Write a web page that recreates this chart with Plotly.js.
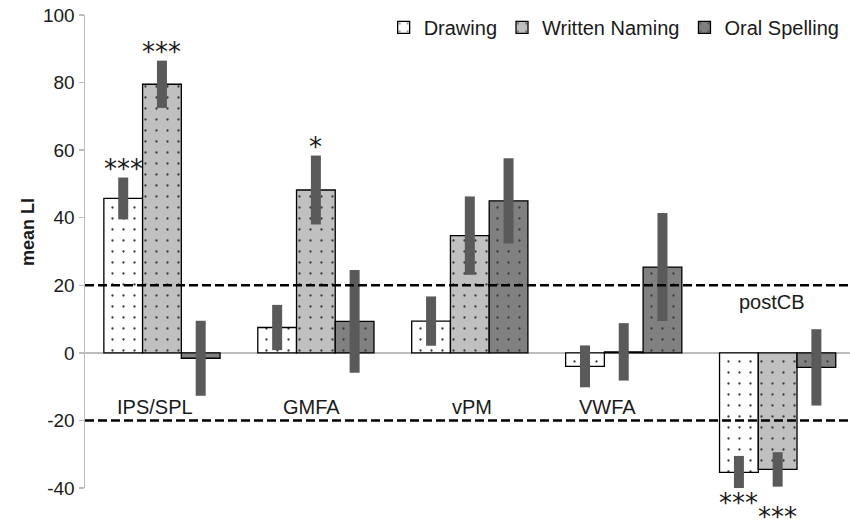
<!DOCTYPE html>
<html><head><meta charset="utf-8">
<script src="https://cdn.plot.ly/plotly-3.0.1.min.js"></script>
<style>html,body{margin:0;padding:0;background:#fff}#chart{width:850px;height:524px}</style>
</head><body><div id="chart"></div>
<script>
// ---- data ----
const regions = ['IPS/SPL', 'GMFA', 'vPM', 'VWFA', 'postCB'];
const seriesNames = ['Drawing', 'Written Naming', 'Oral Spelling'];
const drawingLI  = [45.7, 7.5, 9.4, -4.0, -35.4];
const drawingErr = [6.2, 6.7, 7.3, 6.2, 4.9];
const writtenLI  = [79.5, 48.2, 34.7, 0.3, -34.5];
const writtenErr = [7.0, 10.2, 11.6, 8.5, 5.1];
const oralLI     = [-1.6, 9.3, 45.0, 25.4, -4.3];
const oralErr    = [11.1, 15.2, 12.6, 16.0, 11.3];
const drawingSig = ['***', '', '', '', '***'];
const writtenSig = ['***', '*', '', '', '***'];
const oralSig    = ['', '', '', '', ''];
const yTicks = [-40, -20, 0, 20, 40, 60, 80, 100];
const thresholds = [20, -20];

// ---- styling ----
const FONT = 'Liberation Sans, Arial, sans-serif';
const TXT = '#1a1a1a';
const fills = ['#ffffff', '#c0c0c0', '#808080'];
const values = [drawingLI, writtenLI, oralLI];
const errs = [drawingErr, writtenErr, oralErr];
const sigs = [drawingSig, writtenSig, oralSig];
const bargap = 0.245;
const barW = (1 - bargap) / 3;
const margin = {l: 85, r: 0, t: 15, b: 36};
const H = 524;
const yRange = [-40, 100];
const pxPerUnit = (H - margin.t - margin.b) / (yRange[1] - yRange[0]);

const traces = values.map((v, k) => ({
  type: 'bar',
  name: seriesNames[k],
  x: regions,
  y: v,
  marker: {
    color: fills[k],
    line: {color: '#000', width: 1.3},
    pattern: {shape: '.', fgcolor: '#3a3a3a', bgcolor: fills[k], size: 11, solidity: 0.035, fillmode: 'replace'}
  },
  error_y: {type: 'data', array: errs[k], symmetric: true, visible: true, color: '#5a5a5a', thickness: 10, width: 0},
  hoverinfo: 'none'
}));

const annotations = [];
// significance stars (anchored at the bar value, shifted past the error bar)
sigs.forEach((arr, k) => {
  arr.forEach((s, i) => {
    if (!s) return;
    const v = values[k][i], e = errs[k][i];
    const pos = v >= 0;
    const errPx = e * pxPerUnit;
    let shift = pos ? errPx + 9 : -(errPx + 14);
    if (!pos && k === 1) shift -= 16;
    annotations.push({
      xref: 'x', yref: 'y', x: i + (k - 1) * barW, y: v,
      text: s, showarrow: false, yanchor: 'middle', yshift: shift,
      font: {family: 'DejaVu Sans', size: 26, color: TXT}
    });
  });
});
// region labels
const labelShift = [-7, -4, 2, -16, -6];
regions.forEach((r, i) => {
  annotations.push({
    xref: 'x', yref: 'y', x: i, y: i === 4 ? 15 : -16, xshift: labelShift[i],
    text: r, showarrow: false, yanchor: 'middle',
    font: {family: FONT, size: 20, color: TXT}
  });
});
// y title
annotations.push({
  xref: 'paper', yref: 'paper', x: -0.0745, y: 0.541, text: '<b>mean LI</b>',
  textangle: -90, showarrow: false, xanchor: 'center', yanchor: 'middle',
  font: {family: FONT, size: 18, color: TXT}
});

const shapes = thresholds.map(t => ({
  type: 'line', xref: 'paper', x0: 0, x1: 1, yref: 'y', y0: t, y1: t,
  line: {color: '#000', width: 2.5, dash: '9px,4px'}, layer: 'above'
}));

const layout = {
  width: 850, height: H,
  margin: margin,
  paper_bgcolor: '#fff', plot_bgcolor: '#fff',
  font: {family: FONT, color: TXT},
  barmode: 'group', bargap: bargap, bargroupgap: 0,
  showlegend: true,
  legend: {orientation: 'h', x: 0.993, xanchor: 'right', y: 1.015, yanchor: 'top',
           font: {family: FONT, size: 20, color: TXT}, bgcolor: 'rgba(0,0,0,0)', traceorder: 'normal'},
  xaxis: {type: 'category', range: [-0.5, 4.47], showticklabels: false, ticks: '',
          showline: false, showgrid: false, zeroline: false, fixedrange: true},
  yaxis: {range: yRange, tickvals: yTicks, ticktext: yTicks.map(String), showgrid: false,
          zeroline: true, zerolinecolor: '#bdbdbd', zerolinewidth: 1.5,
          showline: true, linecolor: '#bdbdbd', linewidth: 1.5,
          ticks: 'outside', ticklen: 5, tickcolor: '#bdbdbd', tickwidth: 1.5,
          tickfont: {family: FONT, size: 19, color: TXT}, fixedrange: true},
  annotations: annotations,
  shapes: shapes
};

Plotly.newPlot('chart', traces, layout, {displayModeBar: false, staticPlot: true});
</script>
</body></html>
